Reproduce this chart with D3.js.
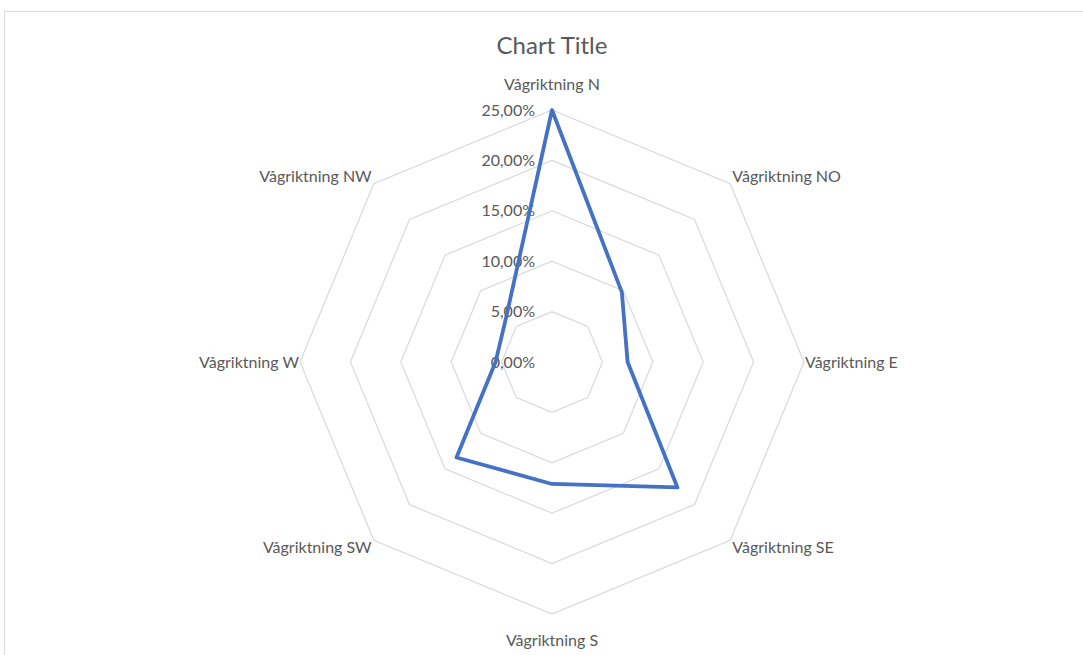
<!DOCTYPE html>
<html><head><meta charset="utf-8">
<script src="https://cdn.jsdelivr.net/npm/d3@7"></script>
<style>body{margin:0;background:#fff}svg{display:block}</style>
</head><body><svg id="c" width="1083" height="655"></svg>
<script>
const categories = ["Vågriktning N","Vågriktning NO","Vågriktning E","Vågriktning SE","Vågriktning S","Vågriktning SW","Vågriktning W","Vågriktning NW"];
const values = [0.25, 0.098, 0.075, 0.176, 0.121, 0.134, 0.056, 0.064];
const ticks = [0, 0.05, 0.10, 0.15, 0.20, 0.25];
const tickLabels = ["0,00%","5,00%","10,00%","15,00%","20,00%","25,00%"];
const title = "Chart Title";

const svg = d3.select("#c");
const font = "Lato, 'Open Sans', sans-serif";
const cx = 552, cy = 362, R = 252;
const r = d3.scaleLinear().domain([0, 0.25]).range([0, R]);
const angle = d3.scalePoint().domain(categories).range([0, 2*Math.PI*(categories.length-1)/categories.length]);
const pt = (c, v) => { const a = angle(c); return [cx + r(v)*Math.sin(a), cy - r(v)*Math.cos(a)]; };

// chart border
svg.append("rect").attr("x",4.5).attr("y",11.5).attr("width",1090).attr("height",660)
  .attr("fill","#fff").attr("stroke","#d9d9d9").attr("stroke-width",1);

svg.append("text").attr("x",cx).attr("y",54).attr("text-anchor","middle")
  .attr("font-family",font).attr("font-size",24).attr("fill","#595959").text(title);

// grid rings
ticks.forEach(t => {
  svg.append("polygon").attr("points", categories.map(c => pt(c,t).join(",")).join(" "))
    .attr("fill","none").attr("stroke","#d9d9d9").attr("stroke-width",1.2);
});

// tick labels
ticks.forEach((t,i) => {
  svg.append("text").attr("x",cx-17).attr("y",cy - r(t)).attr("dy","0.35em")
    .attr("text-anchor","end").attr("font-family",font).attr("font-size",16).attr("fill","#595959")
    .text(tickLabels[i]);
});

// category labels
categories.forEach(c => {
  const a = angle(c);
  const [x,y] = pt(c, 0.25);
  const s = Math.sin(a), co = Math.cos(a);
  let anchor = Math.abs(s) < 0.01 ? "middle" : (s > 0 ? "start" : "end");
  let lx = x, ly = y;
  if (Math.abs(s) < 0.01) { ly = y - co*26; }
  else if (Math.abs(co) < 0.01) { lx = x + s*1; }
  else { lx = x + s*3; ly = y - co*10; }
  svg.append("text").attr("x",lx).attr("y",ly).attr("dy","0.35em").attr("text-anchor",anchor)
    .attr("font-family",font).attr("font-size",16).attr("fill","#595959").text(c);
});

// data line
const line = d3.line().curve(d3.curveLinearClosed);
svg.append("path").attr("d", line(categories.map((c,i)=>pt(c, values[i]))))
  .attr("fill","none").attr("stroke","#4472C4").attr("stroke-width",3.8).attr("stroke-linejoin","round");
</script></body></html>
